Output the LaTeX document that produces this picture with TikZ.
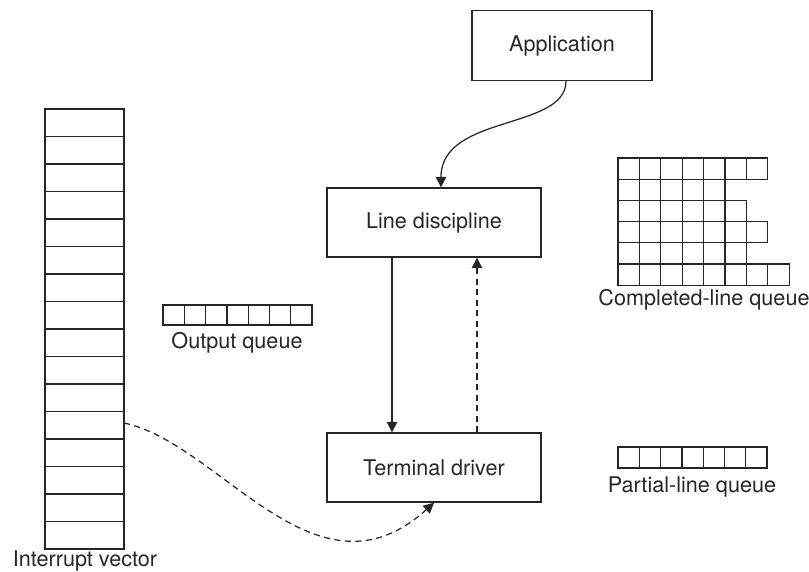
\documentclass[tikz,border=0pt]{standalone}
\usepackage{fontspec}
\setmainfont{TeX Gyre Heros}
\usetikzlibrary{arrows.meta}
\tikzstyle{block}=[draw=black!85, line width=0.8pt, minimum width=4.28cm, minimum height=1.38cm, inner sep=0pt, text=black!85]
\tikzstyle{cell}=[draw=black!85, line width=0.7pt]
\tikzstyle{qname}=[text=black!85]
\tikzstyle{flow}=[black!85, line width=0.7pt, -{Triangle[width=6pt,length=6pt]}]
\tikzstyle{back}=[dash pattern=on 3.5pt off 2.5pt]

\begin{document}
\begin{tikzpicture}[x=0.02cm, y=-0.02cm, font=\fontsize{12.3}{14}\selectfont]
	\useasboundingbox (0,0) rectangle (809,572);
	% Blocks
	\node[block, minimum width=3.6cm, minimum height=1.4cm] (app) at (562,45.5) {Application};
	\node[block] (ld) at (434,222.5) {Line discipline};
	\node[block] (td) at (434,467.5) {Terminal driver};

	% Interrupt vector
	\foreach \i in {0,...,15}{ \draw[cell] (45,109+27.5*\i) rectangle +(79,27.5); }
	\coordinate (irq) at (124,423);
	\node[qname] (ivname) at (85,561) {Interrupt vector};

	% Output queue
	\foreach \i in {0,...,6}{ \draw[cell] (163+21.3*\i,305) rectangle +(21.3,20); }
	\node[qname] (oqname) at (237,343) {Output queue};

	% Completed-line queue
	\foreach \r/\n in {0/7,1/5,2/6,3/7,4/6,5/8}{
		\foreach \i in {1,...,\n}{ \draw[cell] (596.6+21.4*\i,158+21.2*\r) rectangle +(21.4,21.2); }
	}
	\node[qname] (clqname) at (704,300) {Completed-line queue};

	% Partial-line queue
	\foreach \i in {0,...,6}{ \draw[cell] (618+21.3*\i,447) rectangle +(21.3,21); }
	\node[qname] (plqname) at (692,487) {Partial-line queue};

	% Connectors
	\draw[flow] ([xshift=0.08cm]app.south) .. controls +(0,49) and +(0,-73) .. ([xshift=0.14cm]ld.north);
	\draw[flow] ([xshift=-0.84cm]ld.south) -- ([xshift=-0.84cm]td.north);
	\draw[flow, back] ([xshift=0.86cm]td.north) -- ([xshift=0.86cm]ld.south);
	\draw[flow, back] (irq) .. controls +(96,20) and +(-118,107) .. (td.south);
\end{tikzpicture}
\end{document}
